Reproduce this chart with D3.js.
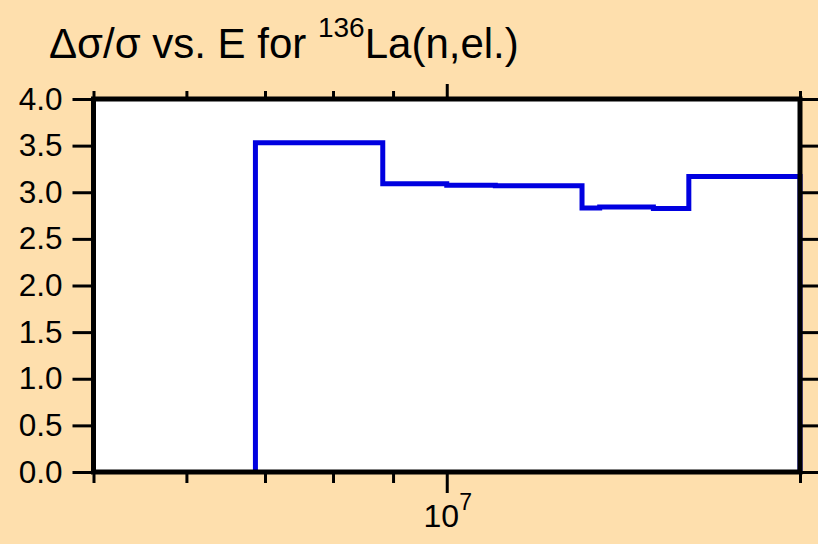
<!DOCTYPE html>
<html>
<head>
<meta charset="utf-8">
<script src="https://cdn.jsdelivr.net/npm/d3@7"></script>
<style>
  html, body { margin: 0; padding: 0; background: #fedfad; }
  svg { display: block; }
  text { font-family: "Liberation Sans", Arial, sans-serif; fill: #000; }
</style>
</head>
<body>
<svg id="chart" width="818" height="544"></svg>
<script>
// ---- data ----
const binEdges = [6.87e6, 8.82e6, 1.0e7, 1.1e7, 1.304e7, 1.35e7, 1.5e7, 1.608e7, 2.0e7];
const binValues = [3.53, 3.09, 3.075, 3.07, 2.83, 2.842, 2.826, 3.17];
const yTickValues = [0, 0.5, 1, 1.5, 2, 2.5, 3, 3.5, 4];
const xMinorTicks = [5e6, 6e6, 7e6, 8e6, 9e6, 2e7];
const xMajorTicks = [1e7];
const titleParts = { before: "\u0394\u03c3/\u03c3 vs. E for ", sup: "136", after: "La(n,el.)" };

// ---- layout ----
const svg = d3.select("#chart");
const L = 93.5, R = 800, T = 99, B = 472;

const x = d3.scaleLog().domain([5e6, 2e7]).range([L, R]);
const y = d3.scaleLinear().domain([0, 4]).range([B, T]);

svg.append("rect").attr("width", 818).attr("height", 544).attr("fill", "#fedfad");
svg.append("rect").attr("x", L).attr("y", T).attr("width", R - L).attr("height", B - T).attr("fill", "#fff");

// step line
const pts = [[binEdges[0], 0]];
binValues.forEach((v, i) => { pts.push([binEdges[i], v]); pts.push([binEdges[i + 1], v]); });
pts.push([binEdges[binEdges.length - 1], 0]);
svg.append("path")
  .attr("d", d3.line().x(d => x(d[0])).y(d => y(d[1]))(pts))
  .attr("fill", "none").attr("stroke", "#0000e0").attr("stroke-width", 5)
  .attr("stroke-linejoin", "miter");

// frame
svg.append("rect").attr("x", L).attr("y", T).attr("width", R - L).attr("height", B - T)
  .attr("fill", "none").attr("stroke", "#000").attr("stroke-width", 5);

// y axes
const yLeft = d3.axisLeft(y).tickValues(yTickValues).tickSize(21).tickPadding(10).tickFormat(d3.format(".1f"));
const gyl = svg.append("g").attr("transform", `translate(${L},0)`).call(yLeft);
gyl.select(".domain").remove();
gyl.selectAll("line").attr("stroke", "#000").attr("stroke-width", 3);
gyl.selectAll("text").attr("font-size", 31.5).style("font-family", '"Liberation Sans", Arial, sans-serif');

const yRight = d3.axisRight(y).tickValues(yTickValues).tickSize(21).tickFormat("");
const gyr = svg.append("g").attr("transform", `translate(${R},0)`).call(yRight);
gyr.select(".domain").remove();
gyr.selectAll("line").attr("stroke", "#000").attr("stroke-width", 3);

// x axes
function xAxisPair(gen, ty, minorSize, majorSize) {
  const g1 = svg.append("g").attr("transform", `translate(0,${ty})`)
    .call(gen(x).tickValues(xMinorTicks).tickSize(minorSize).tickFormat(""));
  g1.select(".domain").remove();
  g1.selectAll("line").attr("stroke", "#000").attr("stroke-width", 3);
  const g2 = svg.append("g").attr("transform", `translate(0,${ty})`)
    .call(gen(x).tickValues(xMajorTicks).tickSize(majorSize).tickFormat(""));
  g2.select(".domain").remove();
  g2.selectAll("line").attr("stroke", "#000").attr("stroke-width", 3);
}
xAxisPair(d3.axisBottom, B, 11, 21);
xAxisPair(d3.axisTop, T, 8, 15);

// x major labels 10^7
xMajorTicks.forEach(v => {
  const t = svg.append("text").attr("x", x(v) + 1).attr("y", 527)
    .attr("text-anchor", "middle").attr("font-size", 32);
  t.append("tspan").text("10");
  t.append("tspan").attr("dy", -17).attr("font-size", 23).text(String(Math.round(Math.log10(v))));
});

// title
const title = svg.append("text").attr("x", 49).attr("y", 58).attr("font-size", 42);
title.append("tspan").text(titleParts.before);
title.append("tspan").attr("dy", -21).attr("font-size", 28).text(titleParts.sup);
title.append("tspan").attr("dy", 21).text(titleParts.after);
</script>
</body>
</html>
